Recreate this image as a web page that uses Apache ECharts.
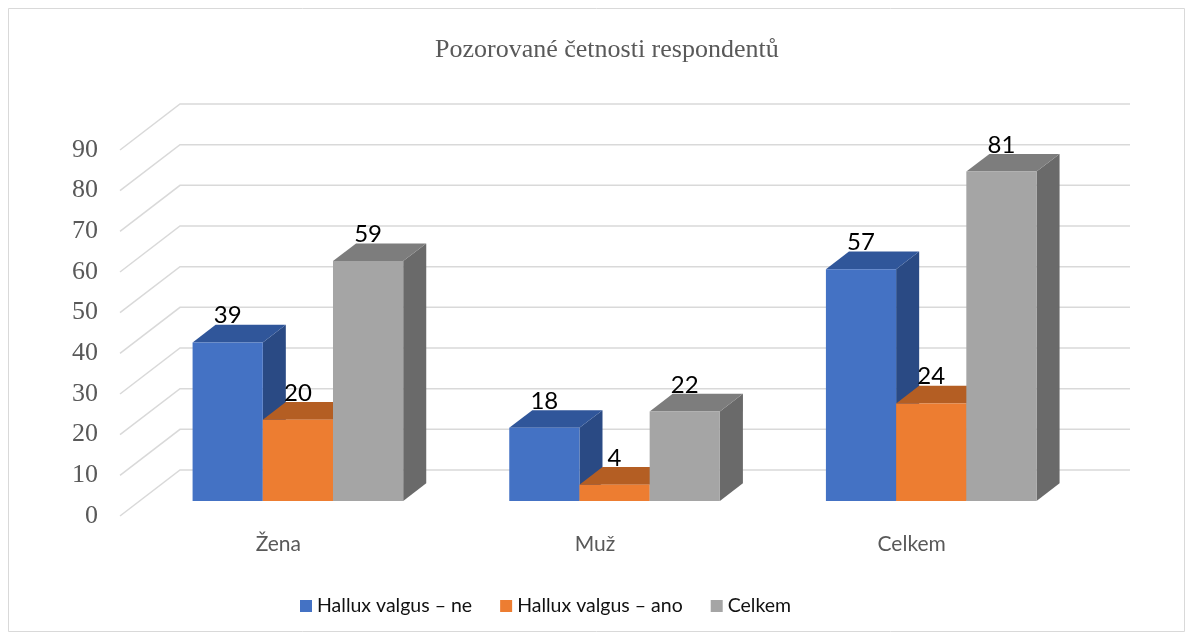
<!DOCTYPE html>
<html lang="cs">
<head>
    <meta charset="UTF-8">
    <title>Pozorované četnosti respondentů</title>
    <script src="https://cdn.jsdelivr.net/npm/echarts/dist/echarts.min.js"></script>
    <style>
        html, body { margin: 0; padding: 0; background: #fff; }
        #chart { width: 1193px; height: 639px; }
    </style>
</head>
<body>
    <div id="chart"></div>
<script>
    // data
    var categories = ['Žena', 'Muž', 'Celkem'];
    var seriesNames = ['Hallux valgus – ne', 'Hallux valgus – ano', 'Celkem'];
    var hvNe = [39, 18, 57];
    var hvAno = [20, 4, 24];
    var celkem = [59, 22, 81];
    var yTicks = [0, 10, 20, 30, 40, 50, 60, 70, 80, 90];

    // 3d look: depth vector of the back wall and where the bars sit in it
    var DEPTH_X = 60, DEPTH_Y = 46;
    var D1 = 0.326, D2 = 0.71;
    var BAR_FRAC = 0.2217;

    var colors = [
        { front: '#4472C4', top: '#30569A', side: '#2A4A84' },
        { front: '#ED7D31', top: '#B45E23', side: '#A9571F' },
        { front: '#A5A5A5', top: '#7D7D7D', side: '#6A6A6A' }
    ];

    function toData(arr) {
        return arr.map(function (v, i) { return [i, v]; });
    }

    function gridRender(params, api) {
        var cs = params.coordSys;
        var y = api.coord([0, api.value(1)])[1];
        var x0 = cs.x;
        return {
            type: 'polyline',
            shape: { points: [[x0, y], [x0 + DEPTH_X, y - DEPTH_Y], [cs.x + cs.width + DEPTH_X, y - DEPTH_Y]] },
            style: { stroke: '#D9D9D9', lineWidth: 1.5, fill: null },
            silent: true
        };
    }

    function barRender(k) {
        var c = colors[k];
        return function (params, api) {
            var i = api.value(0), v = api.value(1);
            var p = api.coord([i, v]);
            var base = api.coord([i, 0]);
            var band = api.size([1, 0])[0];
            var w = band * BAR_FRAC;
            var x0 = p[0] + (k - 1.5) * w + DEPTH_X * D1;
            var yt = p[1] - DEPTH_Y * D1;
            var yb = base[1] - DEPTH_Y * D1;
            var dx = DEPTH_X * (D2 - D1), dy = DEPTH_Y * (D2 - D1);
            return {
                type: 'group',
                children: [{
                    type: 'polygon',
                    shape: { points: [[x0 + w, yt], [x0 + w + dx, yt - dy], [x0 + w + dx, yb - dy], [x0 + w, yb]] },
                    style: { fill: c.side }
                }, {
                    type: 'polygon',
                    shape: { points: [[x0, yt], [x0 + w, yt], [x0 + w + dx, yt - dy], [x0 + dx, yt - dy]] },
                    style: { fill: c.top }
                }, {
                    type: 'rect',
                    shape: { x: x0, y: yt, width: w, height: yb - yt },
                    style: { fill: c.front }
                }, {
                    type: 'text',
                    z2: 10,
                    style: {
                        text: String(v),
                        x: x0 + w / 2,
                        y: yt - dy - 9,
                        align: 'center',
                        verticalAlign: 'middle',
                        fill: '#000',
                        font: '24px Lato'
                    }
                }]
            };
        };
    }

    var myChart = echarts.init(document.getElementById('chart'));
    var option = {
        animation: false,
        backgroundColor: '#fff',
        title: {
            text: 'Pozorované četnosti respondentů',
            left: 430,
            top: 32,
            textStyle: {
                color: '#595959',
                fontFamily: 'Liberation Serif',
                fontWeight: 'normal',
                fontSize: 26
            }
        },
        graphic: [{
            type: 'rect',
            shape: { x: 8.5, y: 8.5, width: 1176, height: 623 },
            style: { fill: null, stroke: '#D9D9D9', lineWidth: 1 },
            silent: true
        }],
        legend: {
            data: seriesNames,
            left: 295,
            top: 591,
            icon: 'rect',
            itemWidth: 12,
            itemHeight: 12,
            itemGap: 28,
            textStyle: {
                color: '#111',
                fontFamily: 'Lato',
                fontSize: 19.5
            }
        },
        grid: {
            left: 120,
            right: 123,
            top: 150,
            bottom: 123
        },
        xAxis: {
            type: 'category',
            data: categories,
            axisLine: { show: false },
            axisTick: { show: false },
            axisLabel: {
                margin: 18,
                color: '#595959',
                fontFamily: 'Lato',
                fontSize: 21
            }
        },
        yAxis: {
            type: 'value',
            min: 0,
            max: 90,
            interval: 10,
            axisLine: { show: false },
            axisTick: { show: false },
            splitLine: { show: false },
            axisLabel: {
                margin: 22,
                color: '#595959',
                fontFamily: 'Liberation Serif',
                fontSize: 26
            }
        },
        series: [{
            type: 'custom',
            name: 'grid',
            silent: true,
            z: 1,
            renderItem: gridRender,
            encode: { x: 0, y: 1 },
            data: toData(yTicks).map(function (d) { return [0, d[1]]; })
        }, {
            type: 'custom',
            name: seriesNames[0],
            itemStyle: { color: colors[0].front },
            renderItem: barRender(0),
            encode: { x: 0, y: 1 },
            z: 2,
            data: toData(hvNe)
        }, {
            type: 'custom',
            name: seriesNames[1],
            itemStyle: { color: colors[1].front },
            renderItem: barRender(1),
            encode: { x: 0, y: 1 },
            z: 3,
            data: toData(hvAno)
        }, {
            type: 'custom',
            name: seriesNames[2],
            itemStyle: { color: colors[2].front },
            renderItem: barRender(2),
            encode: { x: 0, y: 1 },
            z: 4,
            data: toData(celkem)
        }]
    };
    myChart.setOption(option);
    window.onresize = function () {
        myChart.resize();
    };
</script>
</body>
</html>
